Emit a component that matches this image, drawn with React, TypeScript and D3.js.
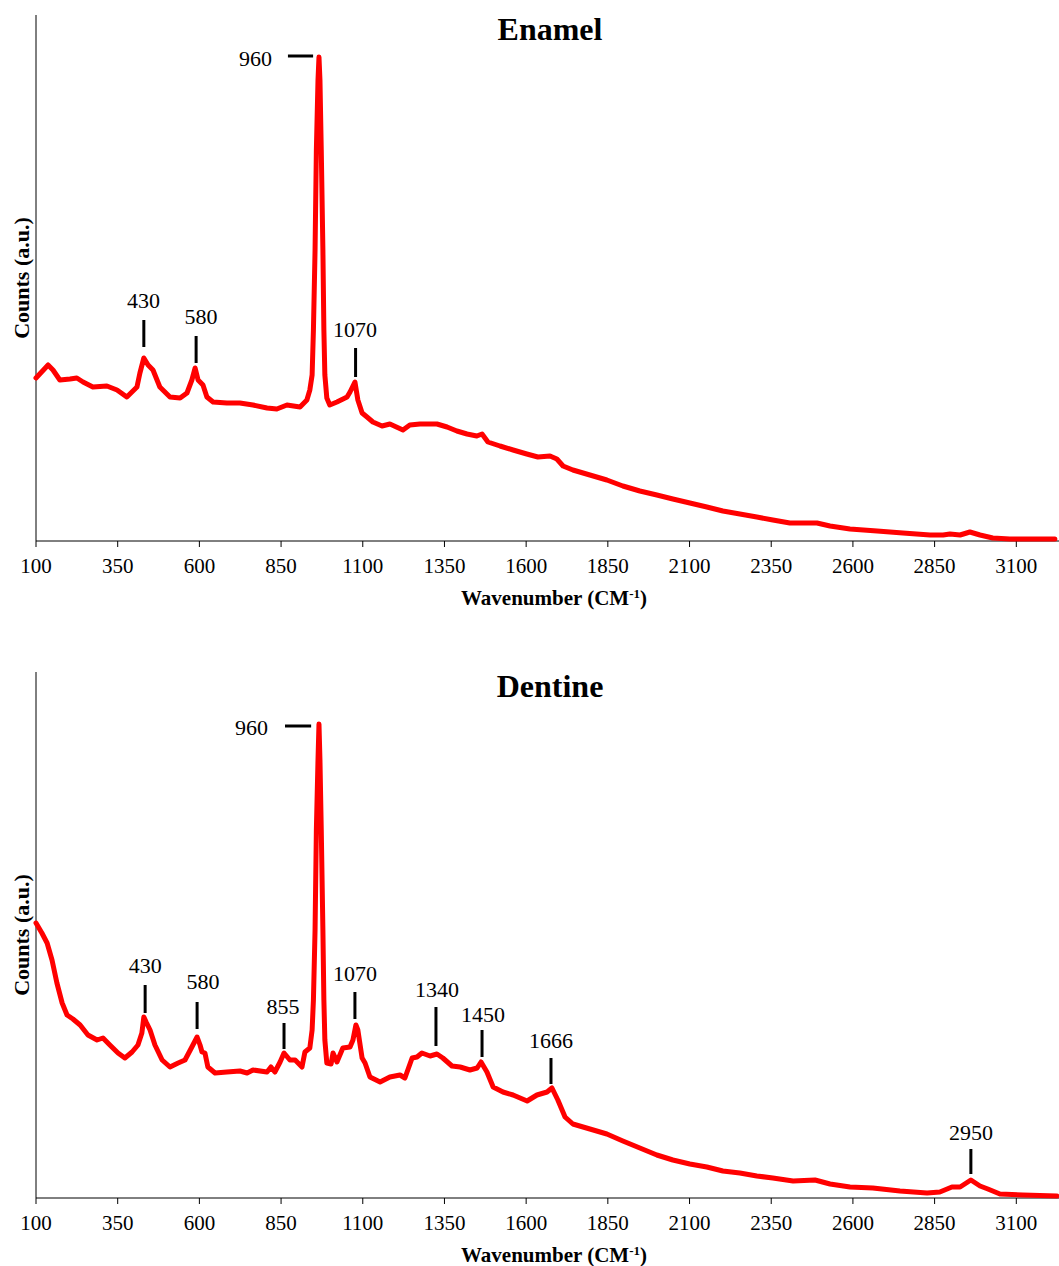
import React from "react";
import * as d3 from "d3";

// Wavenumber (cm-1) and counts (a.u.)
const enamelWave = [100,137,152,173,204,225,244,274,317,348,378,409,418,430,443,458,479,510,541,562,577,587,596,611,623,642,684,724,764,807,837,868,908,929,938,945,949,954,958,963,966,969,973,978,981,984,990,999,1021,1052,1061,1076,1085,1098,1113,1131,1159,1183,1223,1244,1275,1327,1358,1388,1419,1449,1465,1483,1520,1560,1602,1636,1673,1694,1713,1743,1795,1847,1896,1948,2000,2049,2101,2153,2202,2254,2306,2355,2407,2490,2530,2591,2674,2753,2836,2876,2897,2928,2958,2989,3028,3080,3172,3218];
const enamelCounts = [163,176,171,161,162,163,159,154,155,151,144,154,168,183,176,171,154,144,143,148,161,173,161,156,144,139,138,138,136,133,132,136,134,141,151,166,211,291,391,461,484,461,391,291,211,166,143,136,139,144,149,159,141,128,124,119,115,117,111,116,117,117,114,110,107,105,107,99,95,91,87,84,85,82,75,71,66,61,55,50,46,42,38,34,30,27,24,21,18,18,15,12,10,8,6,6,7,6,9,6,3,2,2,2];

const dentineWave = [100,118,134,149,164,180,195,213,235,259,287,305,326,351,372,394,412,424,430,437,449,464,486,510,535,556,577,593,602,608,617,626,648,684,724,746,764,807,819,831,847,859,877,893,914,923,938,945,949,954,958,963,966,969,973,978,981,984,990,1003,1009,1021,1039,1061,1070,1079,1085,1098,1107,1122,1153,1183,1214,1229,1251,1266,1281,1306,1327,1345,1373,1398,1428,1450,1462,1480,1499,1529,1560,1603,1633,1664,1679,1697,1719,1743,1795,1847,1896,1948,2000,2049,2101,2153,2202,2254,2306,2355,2417,2484,2530,2591,2661,2744,2827,2866,2903,2928,2961,2989,3013,3050,3120,3224];
const dentineCounts = [275,265,255,238,215,195,183,179,173,163,158,160,153,145,140,146,153,165,181,176,168,153,138,131,135,138,151,161,153,146,145,131,125,126,127,125,128,126,131,126,136,145,138,138,131,146,150,168,198,268,368,438,474,438,368,268,198,158,135,134,145,136,150,151,158,173,168,140,135,121,116,121,123,120,140,141,145,142,144,140,132,131,128,130,136,126,111,106,103,97,103,106,110,98,81,74,69,64,57,50,43,38,34,31,27,25,22,20,17,18,14,11,10,7,5,6,11,11,18,12,9,4,3,2];

const xTicks = [100,350,600,850,1100,1350,1600,1850,2100,2350,2600,2850,3100];
const panelTitles = ["Enamel", "Dentine"];

// Peak annotations: label, line x, line top, line bottom, text x, text baseline
const enamelLabels = ["430", "580", "1070"];
const enamelLineX = [430, 590, 1078];
const enamelLineTop = [221, 205, 193];
const enamelLineBottom = [194, 178, 164];
const enamelTextX = [429, 605, 1076];
const enamelTextY = [233, 217, 204];
const enamelMain = { label: "960", y: 485, x0: 871, x1: 948, textX: 822, textY: 475 };

const dentineLabels = ["430", "580", "855", "1070", "1340", "1450", "1666", "2950"];
const dentineLineX = [434, 593, 859, 1076, 1324, 1465, 1676, 2961];
const dentineLineTop = [213, 196, 175, 206, 191, 168, 140, 49];
const dentineLineBottom = [185, 169, 149, 179, 152, 141, 114, 24];
const dentineTextX = [434, 611, 856, 1076, 1327, 1468, 1676, 2961];
const dentineTextY = [225, 209, 184, 217, 201, 176, 150, 58];
const dentineMain = { label: "960", y: 472, x0: 862, x1: 942, textX: 810, textY: 463 };

const FONT = "'Times New Roman', 'Liberation Serif', serif";

function Panel({ top, title, wave, counts, labels, lineX, lineTop, lineBottom, textX, textY, main }) {
  const left = 36;
  const right = 1059;
  const height = 526;
  const bottom = top + height;
  const x = d3.scaleLinear().domain([100, 3100]).range([left, 1016.3]);
  const y = d3.scaleLinear().domain([0, 526]).range([bottom, top]);
  const data = wave.map((w, i) => [w, counts[i]]);
  const line = d3.line().x((d) => x(d[0])).y((d) => y(d[1])).curve(d3.curveLinear);
  return (
    <g>
      <line x1={left} x2={left} y1={top} y2={bottom} stroke="#000" strokeWidth={1} />
      <line x1={left} x2={right} y1={bottom} y2={bottom} stroke="#000" strokeWidth={1} />
      {xTicks.map((t) => (
        <g key={t}>
          <line x1={x(t)} x2={x(t)} y1={bottom} y2={bottom + 6} stroke="#000" strokeWidth={1} />
          <text x={x(t)} y={bottom + 32} textAnchor="middle" fontFamily={FONT} fontSize={21} fill="#000">{t}</text>
        </g>
      ))}
      <text x={554} y={bottom + 64} textAnchor="middle" fontFamily={FONT} fontSize={21} fontWeight="bold" fill="#000">
        Wavenumber (CM<tspan baselineShift="super" fontSize={13}>-1</tspan>)
      </text>
      <text transform={`translate(29,${(top + bottom) / 2}) rotate(-90)`} textAnchor="middle" fontFamily={FONT} fontSize={22} fontWeight="bold" fill="#000">Counts (a.u.)</text>
      <text x={550} y={top + 25} textAnchor="middle" fontFamily={FONT} fontSize={32} fontWeight="bold" fill="#000">{title}</text>
      <path d={line(data)} fill="none" stroke="#ff0000" strokeWidth={5} strokeLinejoin="round" strokeLinecap="round" />
      {labels.map((l, i) => (
        <g key={l}>
          <line x1={x(lineX[i])} x2={x(lineX[i])} y1={y(lineTop[i])} y2={y(lineBottom[i])} stroke="#000" strokeWidth={3} />
          <text x={x(textX[i])} y={y(textY[i])} textAnchor="middle" fontFamily={FONT} fontSize={22} fill="#000">{l}</text>
        </g>
      ))}
      <line x1={x(main.x0)} x2={x(main.x1)} y1={y(main.y)} y2={y(main.y)} stroke="#000" strokeWidth={3} />
      <text x={x(main.textX)} y={y(main.textY)} textAnchor="end" fontFamily={FONT} fontSize={22} fill="#000">{main.label}</text>
    </g>
  );
}

export default function App() {
  return (
    <svg width={1059} height={1266} style={{ position: "absolute", left: 0, top: 0, background: "#fff" }}>
      <rect width={1059} height={1266} fill="#fff" />
      <Panel top={15} title={panelTitles[0]} wave={enamelWave} counts={enamelCounts}
        labels={enamelLabels} lineX={enamelLineX} lineTop={enamelLineTop} lineBottom={enamelLineBottom}
        textX={enamelTextX} textY={enamelTextY} main={enamelMain} />
      <Panel top={672} title={panelTitles[1]} wave={dentineWave} counts={dentineCounts}
        labels={dentineLabels} lineX={dentineLineX} lineTop={dentineLineTop} lineBottom={dentineLineBottom}
        textX={dentineTextX} textY={dentineTextY} main={dentineMain} />
    </svg>
  );
}
